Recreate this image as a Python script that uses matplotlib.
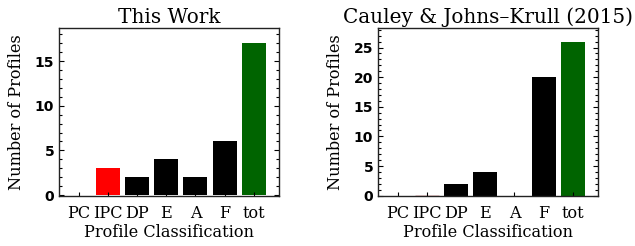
import matplotlib
matplotlib.use('Agg')
import matplotlib.pyplot as plt
from matplotlib.ticker import MultipleLocator

categories = ['PC', 'IPC', 'DP', 'E', 'A', 'F', 'tot']
this_work = [0, 3, 2, 4, 2, 6, 17]
cauley = [0, 0, 2, 4, 0, 20, 26]
titles = ['This Work', 'Cauley & Johns\u2013Krull (2015)']
colors = ['black', 'red', 'black', 'black', 'black', 'black', 'darkgreen']
ylims = [(-0.1, 18.7), (-0.05, 28.3)]

fig = plt.figure(figsize=(6.35, 2.46), dpi=100)
ax_left = fig.add_axes([0.0929, 0.2033, 0.3465, 0.683])
ax_right = fig.add_axes([0.5953, 0.2033, 0.3465, 0.683])

serif = 'DejaVu Serif'

for ax, values, title, ylim in zip([ax_left, ax_right], [this_work, cauley], titles, ylims):
    x = list(range(len(categories)))
    # zero-height red bar still shows as a thin dark red line
    edges = ['darkred' if (v == 0 and c == 'red') else 'none' for v, c in zip(values, colors)]
    ax.bar(x, values, width=0.82, color=colors, edgecolor=edges, linewidth=1)
    ax.set_xlim(-0.67, 6.86)
    ax.set_ylim(*ylim)
    ax.set_xticks(x)
    ax.set_xticklabels(categories, family=serif, fontsize=11.6)
    ax.yaxis.set_major_locator(MultipleLocator(5))
    ax.yaxis.set_minor_locator(MultipleLocator(1))
    for lab in ax.get_yticklabels():
        lab.set_fontweight('bold')
        lab.set_fontsize(10)
    ax.tick_params(axis='y', which='major', direction='in', length=3.5, width=0.8,
                   left=True, right=True, pad=3.5)
    ax.tick_params(axis='y', which='minor', direction='in', length=2, width=0.8,
                   left=True, right=True)
    ax.tick_params(axis='x', direction='in', length=3, width=0.8, pad=6.5)
    for s in ax.spines.values():
        s.set_linewidth(1)
        s.set_color('#222222')
    ax.set_title(title, family=serif, fontsize=14.4, pad=3.6)
    ax.set_xlabel('Profile Classification', family=serif, fontsize=11.6, labelpad=1.5)
    ax.set_ylabel('Number of Profiles', family=serif, fontsize=11.6, labelpad=7)

fig.savefig('out.png', dpi=100)
